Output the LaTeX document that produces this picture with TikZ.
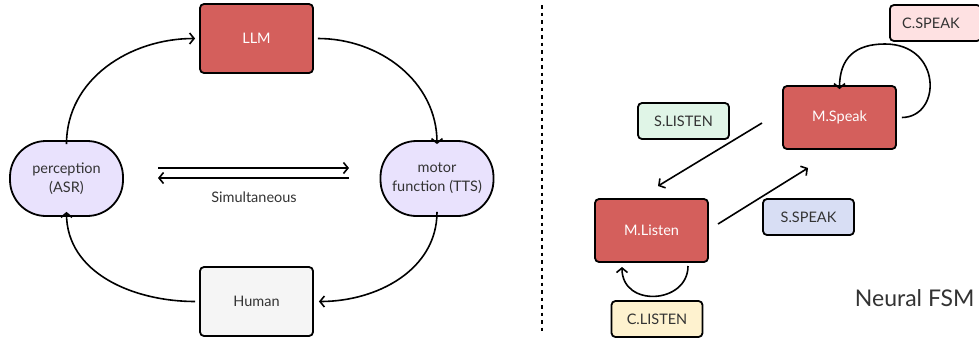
\documentclass[tikz,border=0pt]{standalone}
\usepackage{fontspec}
\setmainfont{Lato}
\usetikzlibrary{arrows.meta}
\definecolor{boxred}{HTML}{D45F5C}
\definecolor{lav}{HTML}{E9E2FD}
\definecolor{hum}{HTML}{F5F5F5}
\definecolor{cspeak}{HTML}{FEE1E2}
\definecolor{slisten}{HTML}{E0F5E7}
\definecolor{sspeak}{HTML}{D8DEF4}
\definecolor{clisten}{HTML}{FEF2CF}
\definecolor{txt}{HTML}{333333}
\tikzset{
  lbl/.style={font=\fontsize{14.5}{19}\selectfont, text=txt},
  base/.style={lbl, draw=black, line width=1.8pt, inner sep=0pt, align=center},
  redbox/.style={base, fill=boxred, text=white, rounded corners=4pt, minimum width=113pt, minimum height=69pt},
  redsm/.style={redbox, minimum height=63pt},
  greybox/.style={base, fill=hum, rounded corners=4pt, minimum width=113pt, minimum height=69pt},
  pill/.style={base, fill=lav, rounded corners=36pt, minimum width=113pt, minimum height=75pt},
  tag/.style={base, rounded corners=4pt, minimum width=91pt, minimum height=36pt},
  conn/.style={line width=1.6pt, -{Straight Barb[length=4.5pt,width=11pt,line width=1.6pt]}},
}
\begin{document}
\begin{tikzpicture}[x=1pt,y=-1pt]
\useasboundingbox (0,0) rectangle (979,341);
% left
\node[redbox] (llm) at (256.5,38.5) {LLM};
\node[greybox] (human) at (256.5,301.5) {Human};
\node[pill] (perc) at (66.5,178.5) {perception\\(ASR)};
\node[pill] (motor) at (437,178.5) {motor\\function (TTS)};
\draw[conn] ([yshift=-4pt]perc.north) to[out=90,in=180] ([xshift=-4pt]llm.west);
\draw[conn] ([xshift=4pt]llm.east) to[out=0,in=90] ([yshift=-4pt]motor.north);
\draw[conn] ([yshift=5pt]motor.south) to[out=-90,in=0] ([xshift=5pt]human.east);
\draw[conn] ([xshift=-4pt]human.west) to[out=180,in=-90] ([yshift=5pt]perc.south);
\coordinate (s1) at (158,168);
\coordinate (e1) at (349,168);
\coordinate (s2) at (349,178);
\coordinate (e2) at (158,178);
\draw[conn] (s1) -- (e1);
\draw[conn] (s2) -- (e2);
\node[lbl] (sim) at (254,197) {Simultaneous};
% divider
\coordinate (d1) at (542,5);
\coordinate (d2) at (542,334);
\draw[line width=2pt, dash pattern=on 3.5pt off 4pt] (d1) -- (d2);
% right
\node[tag, fill=cspeak, anchor=west] (cs) at (889,23) {\hspace*{1pt}C.SPEAK\hspace*{10pt}};
\node[redsm] (msp) at (839.5,117.5) {M.Speak};
\node[tag, fill=slisten] (sl) at (683.5,121) {S.LISTEN};
\node[redsm] (mli) at (651.5,230.5) {M.Listen};
\node[tag, fill=sspeak] (ss) at (808.5,217) {S.SPEAK};
\node[tag, fill=clisten] (cl) at (657,319) {C.LISTEN};
\node[font=\fontsize{23}{26}\selectfont, text=txt, anchor=east] (fsm) at (978,298) {Neural FSM};
\coordinate (a1) at (762,123);
\coordinate (a2) at (658,186);
\coordinate (b1) at (718,224);
\coordinate (b2) at (808,168);
\draw[conn] (a1) -- (a2);
\draw[conn] (b1) -- (b2);
\coordinate (lt) at (885,44);
\draw[conn] ([xshift=5pt]msp.east) .. controls (942,117) and (942,44) .. (lt) .. controls (855,44) and (839.5,58) .. ([yshift=-4pt]msp.north);
\coordinate (lb1) at (688,266);
\coordinate (lb2) at (622,267);
\draw[conn] (lb1) .. controls (688,304) and (622,308) .. (lb2);
\end{tikzpicture}
\end{document}
